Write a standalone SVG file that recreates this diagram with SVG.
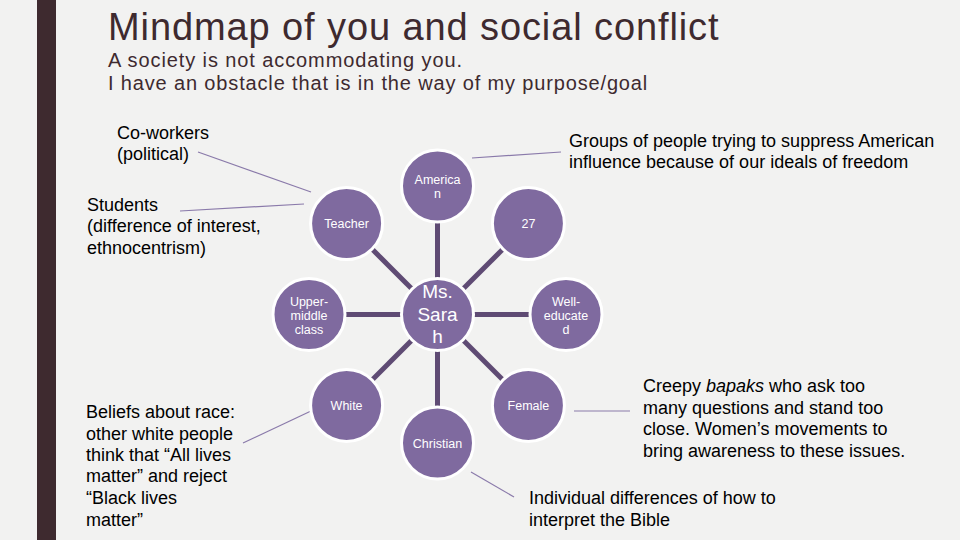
<svg xmlns="http://www.w3.org/2000/svg" width="960" height="540" viewBox="0 0 960 540">
<style>
.bg{fill:#f2f2f1}
.title{font-family:"Liberation Sans",Arial,sans-serif;fill:#3e2a2f}
.lbl{font-family:"Liberation Sans",Arial,sans-serif;font-size:18px;fill:#000}
.node circle{fill:#7f6a9f;stroke:#ffffff;stroke-width:3}
.node text{font-family:"Liberation Sans",Arial,sans-serif;font-size:12.5px;fill:#ffffff;text-anchor:middle}
.node text.big{font-size:19px}
.spoke{stroke:#5f4b74;stroke-width:5}
.thin{stroke:#8a7aaa;stroke-width:1.2}
</style>
<rect class="bg" x="0" y="0" width="960" height="540"/>
<rect x="37" y="0" width="19" height="540" fill="#3e2a2f"/>
<text class="title" x="108" y="40" font-size="38" letter-spacing="0.9">Mindmap of you and social conflict</text>
<text class="title" x="108" y="67" font-size="20" letter-spacing="0.9">A society is not accommodating you.</text>
<text class="title" x="108" y="90" font-size="20" letter-spacing="0.85">I have an obstacle that is in the way of my purpose/goal</text>

<g id="connectors">
  <line class="spoke" x1="437.5" y1="314.5" x2="437.5" y2="186"/>
  <line class="spoke" x1="437.5" y1="314.5" x2="437.5" y2="443"/>
  <line class="spoke" x1="437.5" y1="314.5" x2="309" y2="314.5"/>
  <line class="spoke" x1="437.5" y1="314.5" x2="566" y2="314.5"/>
  <line class="spoke" x1="437.5" y1="314.5" x2="346.6" y2="223.6"/>
  <line class="spoke" x1="437.5" y1="314.5" x2="528.4" y2="223.6"/>
  <line class="spoke" x1="437.5" y1="314.5" x2="346.6" y2="405.4"/>
  <line class="spoke" x1="437.5" y1="314.5" x2="528.4" y2="405.4"/>
  <line class="thin" x1="198" y1="152" x2="311" y2="192"/>
  <line class="thin" x1="180" y1="211" x2="304" y2="204"/>
  <line class="thin" x1="472" y1="158" x2="561" y2="152"/>
  <line class="thin" x1="243" y1="443" x2="311" y2="411"/>
  <line class="thin" x1="574" y1="411" x2="630" y2="411"/>
  <line class="thin" x1="471" y1="472" x2="514" y2="497"/>
</g>

<g id="node-center" class="node">
  <circle cx="437.5" cy="314.5" r="36"/>
  <text class="big" x="437.5" y="298">Ms.</text>
  <text class="big" x="437.5" y="321">Sara</text>
  <text class="big" x="437.5" y="343">h</text>
</g>
<g id="node-american" class="node">
  <circle cx="437.5" cy="186" r="36"/>
  <text x="437.5" y="184">America</text>
  <text x="437.5" y="198">n</text>
</g>
<g id="node-teacher" class="node">
  <circle cx="346.6" cy="223.6" r="36"/>
  <text x="346.6" y="228">Teacher</text>
</g>
<g id="node-27" class="node">
  <circle cx="528.4" cy="223.6" r="36"/>
  <text x="528.4" y="228">27</text>
</g>
<g id="node-upper" class="node">
  <circle cx="309" cy="314.5" r="36"/>
  <text x="309" y="306">Upper-</text>
  <text x="309" y="320">middle</text>
  <text x="309" y="334">class</text>
</g>
<g id="node-educated" class="node">
  <circle cx="566" cy="314.5" r="36"/>
  <text x="566" y="306">Well-</text>
  <text x="566" y="320">educate</text>
  <text x="566" y="334">d</text>
</g>
<g id="node-white" class="node">
  <circle cx="346.6" cy="405.4" r="36"/>
  <text x="346.6" y="410">White</text>
</g>
<g id="node-female" class="node">
  <circle cx="528.4" cy="405.4" r="36"/>
  <text x="528.4" y="410">Female</text>
</g>
<g id="node-christian" class="node">
  <circle cx="437.5" cy="443" r="36"/>
  <text x="437.5" y="448">Christian</text>
</g>

<g id="label-coworkers">
  <text class="lbl" x="117" y="139">Co-workers</text>
  <text class="lbl" x="117" y="160">(political)</text>
</g>
<g id="label-students">
  <text class="lbl" x="87" y="211">Students</text>
  <text class="lbl" x="87" y="232">(difference of interest,</text>
  <text class="lbl" x="87" y="254">ethnocentrism)</text>
</g>
<g id="label-groups">
  <text class="lbl" x="569" y="147">Groups of people trying to suppress American</text>
  <text class="lbl" x="569" y="168">influence because of our ideals of freedom</text>
</g>
<g id="label-beliefs">
  <text class="lbl" x="86" y="418">Beliefs about race:</text>
  <text class="lbl" x="86" y="440">other white people</text>
  <text class="lbl" x="86" y="461">think that “All lives</text>
  <text class="lbl" x="86" y="482">matter” and reject</text>
  <text class="lbl" x="86" y="504">“Black lives</text>
  <text class="lbl" x="86" y="526">matter”</text>
</g>
<g id="label-creepy">
  <text class="lbl" x="643" y="392">Creepy <tspan font-style="italic">bapaks</tspan> who ask too</text>
  <text class="lbl" x="643" y="414">many questions and stand too</text>
  <text class="lbl" x="643" y="435">close. Women’s movements to</text>
  <text class="lbl" x="643" y="457">bring awareness to these issues.</text>
</g>
<g id="label-bible">
  <text class="lbl" x="529" y="504">Individual differences of how to</text>
  <text class="lbl" x="529" y="526">interpret the Bible</text>
</g>
</svg>
